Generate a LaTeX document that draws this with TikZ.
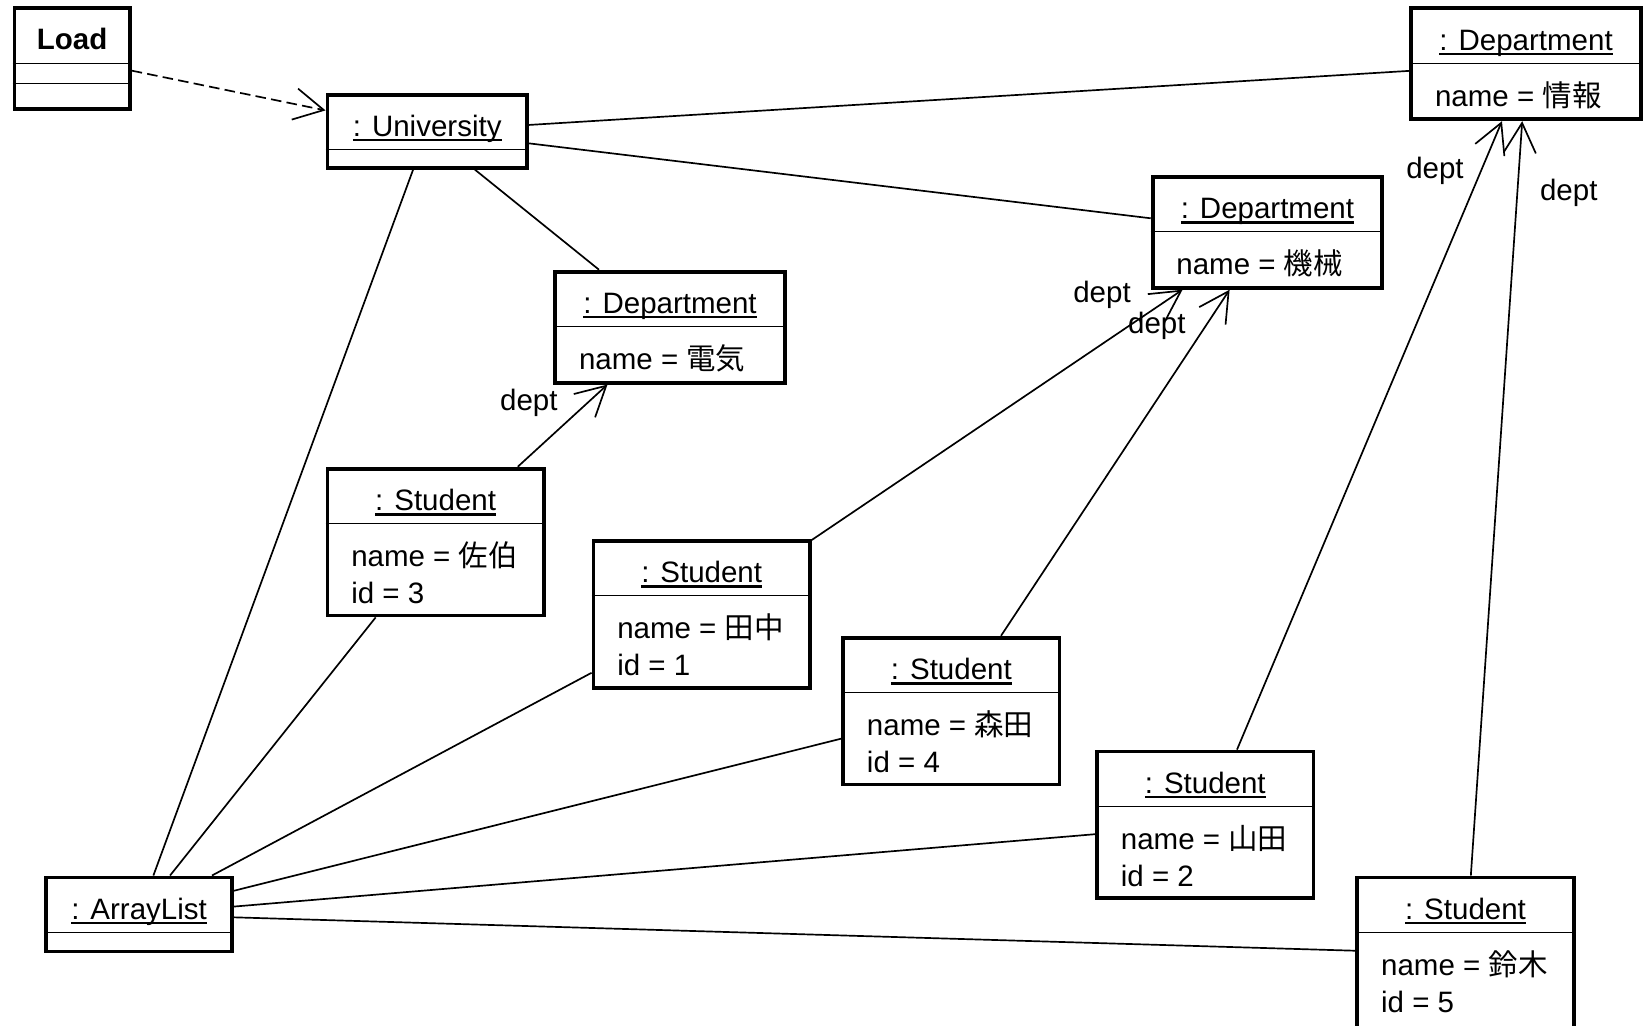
\documentclass[tikz,border=0pt]{standalone}
\usepackage{fontspec}
\setmainfont{Liberation Sans}
\newfontfamily\jp{Noto Sans CJK JP}
\usetikzlibrary{arrows.meta}
\newsavebox\objbox
\newcommand{\objname}[1]{\sbox\objbox{#1}\rlap{\rule[-2.4pt]{\wd\objbox}{1.1pt}}\usebox\objbox}

\begin{document}
\begin{tikzpicture}[x=0.5pt, y=-0.5pt, font=\fontsize{14}{17}\selectfont,
  obj/.style={draw, line width=1.8pt, inner sep=0pt},
  dept/.style={obj, minimum width=109pt, minimum height=52.7pt},
  stud/.style={obj, minimum width=102.7pt, minimum height=69.7pt},
  ttl/.style={anchor=base, inner sep=0pt},
  attr/.style={anchor=base west, inner sep=0pt},
  sep/.style={line width=0.65pt},
  link/.style={line width=0.8pt},
  nav/.style={link, -{Straight Barb[length=14pt, width=15pt]}},
  dep/.style={nav, dash pattern=on 5pt off 2.5pt},
  role/.style={inner sep=0pt}]
\useasboundingbox (0,0) rectangle (1568,973);

% class and objects
\node[obj, minimum width=54.7pt, minimum height=47.7pt] (load) at (68.5,55.5) {};
\node[ttl] (load-t) at ([yshift=-20.5pt]load.north) {\textbf{Load}};
\draw[sep] ([yshift=-27pt]load.north west) -- ([yshift=-27pt]load.north east);
\draw[sep] ([yshift=-36.5pt]load.north west) -- ([yshift=-36.5pt]load.north east);

\node[obj, minimum width=94.7pt, minimum height=34.7pt] (uni) at (405.5,124.5) {};
\node[ttl] (uni-t) at ([yshift=-20.75pt]uni.north) {\objname{: University}};
\draw[sep] ([yshift=-27pt]uni.north west) -- ([yshift=-27pt]uni.north east);

\node[obj, minimum width=88.2pt, minimum height=35.2pt] (al) at (132,868) {};
\node[ttl] (al-t) at ([yshift=-20.75pt]al.north) {\objname{: ArrayList}};
\draw[sep] ([yshift=-27pt]al.north west) -- ([yshift=-27pt]al.north east);

% departments
\node[dept] (di) at (1448.5,60.5) {};
\node[ttl] (di-t) at ([yshift=-20.75pt]di.north) {\objname{: Department}};
\draw[sep] ([yshift=-27pt]di.north west) -- ([yshift=-27pt]di.north east);
\node[attr] (di-n) at ([xshift=12pt, yshift=-47.5pt]di.north west) {name = {\jp 情報}};

\node[dept] (dk) at (1203,220.5) {};
\node[ttl] (dk-t) at ([yshift=-20.75pt]dk.north) {\objname{: Department}};
\draw[sep] ([yshift=-27pt]dk.north west) -- ([yshift=-27pt]dk.north east);
\node[attr] (dk-n) at ([xshift=12pt, yshift=-47.5pt]dk.north west) {name = {\jp 機械}};

\node[dept] (dd) at (636,310.5) {};
\node[ttl] (dd-t) at ([yshift=-20.75pt]dd.north) {\objname{: Department}};
\draw[sep] ([yshift=-27pt]dd.north west) -- ([yshift=-27pt]dd.north east);
\node[attr] (dd-n) at ([xshift=12pt, yshift=-47.5pt]dd.north west) {name = {\jp 電気}};

% students
\node[stud] (s3) at (413.5,514.5) {};
\node[ttl] (s3-t) at ([yshift=-20.75pt]s3.north) {\objname{: Student}};
\draw[sep] ([yshift=-27pt]s3.north west) -- ([yshift=-27pt]s3.north east);
\node[attr] (s3-n) at ([xshift=12pt, yshift=-47.5pt]s3.north west) {name = {\jp 佐伯}};
\node[attr] (s3-i) at ([xshift=12pt, yshift=-65pt]s3.north west) {id = 3};

\node[stud] (s1) at (666,583) {};
\node[ttl] (s1-t) at ([yshift=-20.75pt]s1.north) {\objname{: Student}};
\draw[sep] ([yshift=-27pt]s1.north west) -- ([yshift=-27pt]s1.north east);
\node[attr] (s1-n) at ([xshift=12pt, yshift=-47.5pt]s1.north west) {name = {\jp 田中}};
\node[attr] (s1-i) at ([xshift=12pt, yshift=-65pt]s1.north west) {id = 1};

\node[stud] (s4) at (903,675) {};
\node[ttl] (s4-t) at ([yshift=-20.75pt]s4.north) {\objname{: Student}};
\draw[sep] ([yshift=-27pt]s4.north west) -- ([yshift=-27pt]s4.north east);
\node[attr] (s4-n) at ([xshift=12pt, yshift=-47.5pt]s4.north west) {name = {\jp 森田}};
\node[attr] (s4-i) at ([xshift=12pt, yshift=-65pt]s4.north west) {id = 4};

\node[stud] (s2) at (1144,783) {};
\node[ttl] (s2-t) at ([yshift=-20.75pt]s2.north) {\objname{: Student}};
\draw[sep] ([yshift=-27pt]s2.north west) -- ([yshift=-27pt]s2.north east);
\node[attr] (s2-n) at ([xshift=12pt, yshift=-47.5pt]s2.north west) {name = {\jp 山田}};
\node[attr] (s2-i) at ([xshift=12pt, yshift=-65pt]s2.north west) {id = 2};

\node[stud, minimum height=72.7pt] (s5) at (1391,905.5) {};
\node[ttl] (s5-t) at ([yshift=-20.75pt]s5.north) {\objname{: Student}};
\draw[sep] ([yshift=-27pt]s5.north west) -- ([yshift=-27pt]s5.north east);
\node[attr] (s5-n) at ([xshift=12pt, yshift=-47.5pt]s5.north west) {name = {\jp 鈴木}};
\node[attr] (s5-i) at ([xshift=12pt, yshift=-65pt]s5.north west) {id = 5};

% links
\draw[dep] (load) -- (uni);
\draw[link] (uni) -- (di);
\draw[link] (uni) -- (dk);
\draw[link] (uni) -- (dd);
\draw[link] (uni) -- (al);
\draw[nav] (s3) -- (dd);
\draw[nav] (s1) -- (dk);
\draw[nav] (s4) -- (dk);
\draw[nav] (s2) -- (di);
\draw[nav] (s5) -- (di);
\draw[link] (s3) -- (al);
\draw[link] (s1) -- (al);
\draw[link] (s4) -- (al);
\draw[link] (s2) -- (al);
\draw[link] (s5) -- (al);

% role names
\node[role] (r3) at (502,382) {dept};
\node[role] (r1) at (1046,280) {dept};
\node[role] (r4) at (1098,309) {dept};
\node[role] (r2) at (1362,162) {dept};
\node[role] (r5) at (1489,183) {dept};
\end{tikzpicture}
\end{document}
